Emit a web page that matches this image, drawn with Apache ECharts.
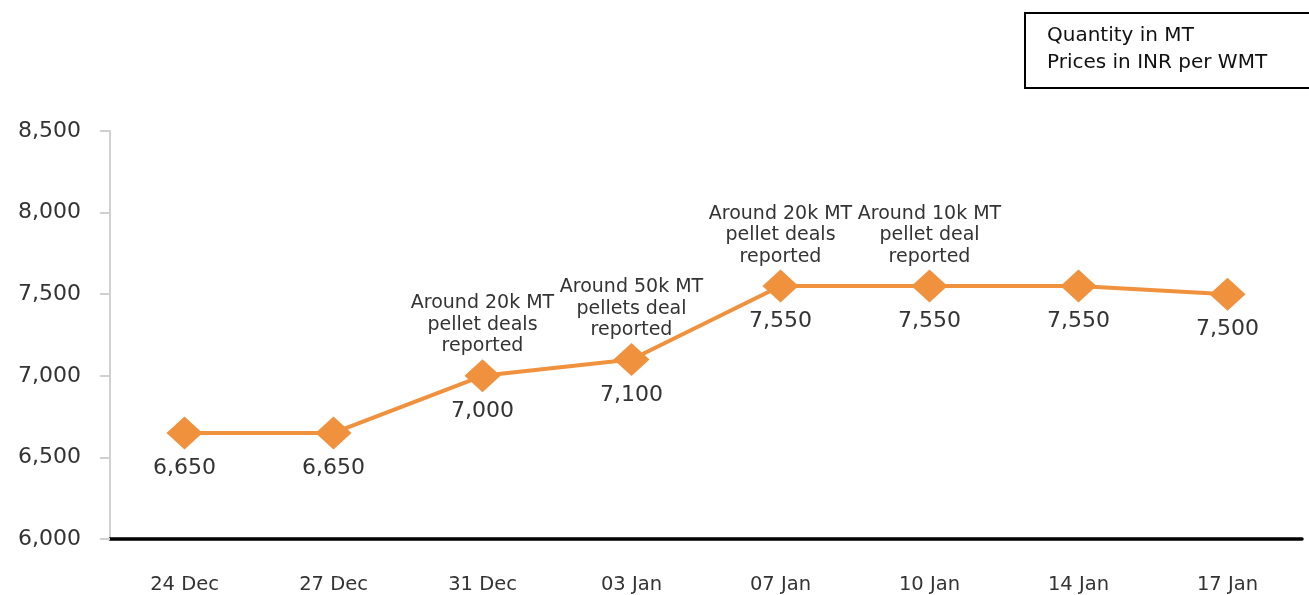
<!DOCTYPE html>
<html>
<head>
<meta charset="utf-8">
<script src="https://cdn.jsdelivr.net/npm/echarts@6/dist/echarts.min.js"></script>
<style>html,body{margin:0;padding:0;background:#fff}#c{width:1309px;height:595px}</style>
</head>
<body>
<div id="c"></div>
<script>
const categories = ['24 Dec','27 Dec','31 Dec','03 Jan','07 Jan','10 Jan','14 Jan','17 Jan'];
const prices = [6650, 6650, 7000, 7100, 7550, 7550, 7550, 7500];
const annotations = ['', '', 'Around 20k MT\npellet deals\nreported', 'Around 50k MT\npellets deal\nreported', 'Around 20k MT\npellet deals\nreported', 'Around 10k MT\npellet deal\nreported', '', ''];
const yTicks = {min: 6000, max: 8500, interval: 500};
const noteLines = ['Quantity in MT', 'Prices in INR per WMT'];

const FONT = 'DejaVu Sans';
const ORANGE = '#F0913D';
const chart = echarts.init(document.getElementById('c'), null, {renderer: 'canvas'});
chart.setOption({
  animation: false,
  backgroundColor: '#fff',
  grid: {left: 110, right: 7, top: 131, bottom: 55, containLabel: false},
  xAxis: {
    type: 'category',
    data: categories,
    boundaryGap: true,
    axisLine: {lineStyle: {color: '#000', width: 3.5}},
    axisTick: {alignWithLabel: true, length: 12, lineStyle: {color: '#777', width: 2}},
    axisLabel: {color: '#333', fontFamily: FONT, fontSize: 19.5, margin: 36}
  },
  yAxis: {
    type: 'value',
    min: yTicks.min, max: yTicks.max, interval: yTicks.interval,
    splitLine: {show: false},
    axisLine: {show: true, lineStyle: {color: '#d0d0d0', width: 2}},
    axisTick: {show: true, length: 10, lineStyle: {color: '#d0d0d0', width: 2}},
    axisLabel: {color: '#333', fontFamily: FONT, fontSize: 22, margin: 29,
      formatter: v => v.toLocaleString('en-US')}
  },
  series: [
    {
      type: 'line',
      data: prices,
      symbol: 'diamond',
      symbolSize: [36, 33],
      lineStyle: {color: ORANGE, width: 4},
      itemStyle: {color: ORANGE},
      label: {show: true, position: 'bottom', distance: 8, color: '#333',
        fontFamily: FONT, fontSize: 22,
        formatter: p => p.value.toLocaleString('en-US')},
      z: 3
    },
    {
      type: 'line',
      data: prices,
      symbol: 'diamond',
      symbolSize: [36, 33],
      lineStyle: {opacity: 0},
      itemStyle: {color: 'rgba(0,0,0,0)'},
      label: {show: true, position: 'top', distance: 2, color: '#333',
        fontFamily: FONT, fontSize: 19, lineHeight: 21.5, align: 'center',
        formatter: p => annotations[p.dataIndex]},
      silent: true,
      z: 2
    }
  ],
  graphic: [
    {type: 'rect', left: 1024, top: 12, shape: {width: 300, height: 75},
      style: {fill: '#fff', stroke: '#000', lineWidth: 2}},
    {type: 'text', left: 1047, top: 22,
      style: {text: noteLines.join('\n'), font: '20px "DejaVu Sans"', fill: '#111', lineHeight: 27}}
  ]
});
</script>
</body>
</html>
